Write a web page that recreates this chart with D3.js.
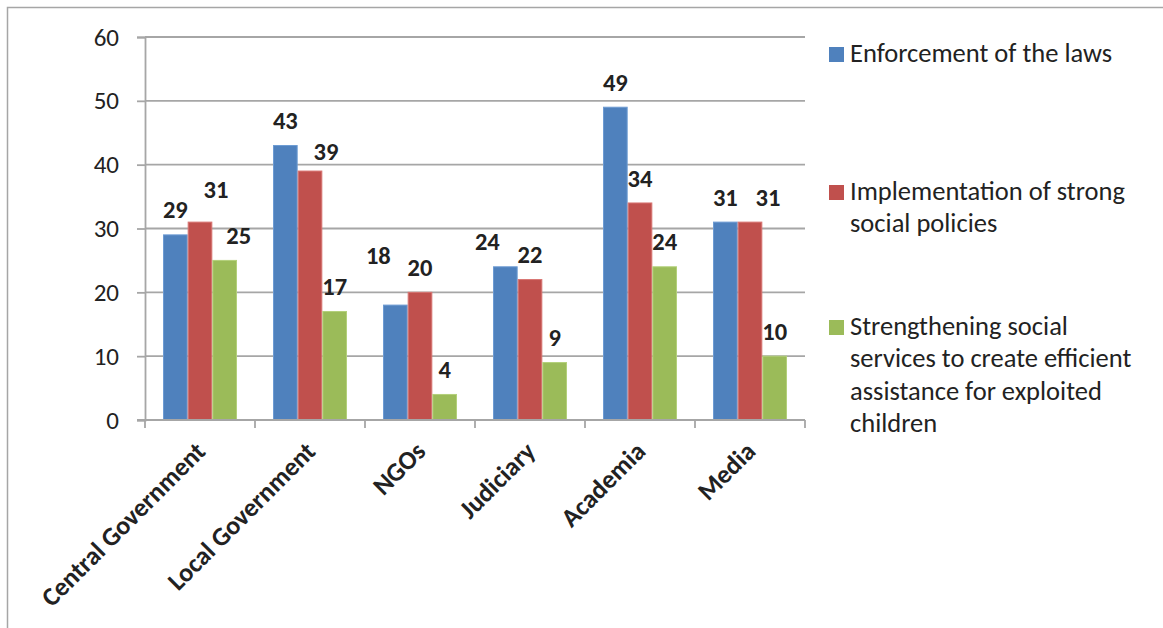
<!DOCTYPE html>
<html>
<head>
<meta charset="utf-8">
<script src="https://cdn.jsdelivr.net/npm/d3@7"></script>
<style>
  html, body { margin: 0; padding: 0; background: #fff; }
  svg { display: block; }
  text { font-family: Carlito, Calibri, Lato, "Open Sans", sans-serif; fill: #222; }
</style>
</head>
<body>
<svg id="chart" width="1163" height="628"></svg>
<script>
// ---- data ----
const categories = ["Central Government", "Local Government", "NGOs", "Judiciary", "Academia", "Media"];
const seriesNames = [
  "Enforcement of the laws",
  "Implementation of strong social policies",
  "Strengthening social services to create efficient assistance for exploited children"
];
const enforcement     = [29, 43, 18, 24, 49, 31];
const implementation  = [31, 39, 20, 22, 34, 31];
const strengthening   = [25, 17,  4,  9, 24, 10];
const yTicks = [0, 10, 20, 30, 40, 50, 60];
const legendLines = [
  ["Enforcement of the laws"],
  ["Implementation of strong", "social policies"],
  ["Strengthening social", "services to create efficient", "assistance for exploited", "children"]
];

// ---- styling ----
const colors = ["#4F81BD", "#C0504D", "#9BBB59"];
const strokes = ["#6d9bd3", "#d87572", "#b3d07a"];
// manual data-label nudges (px) relative to default placement, per category x series
const labelNudge = [
  [[0,0],[16,-8],[14,0]],
  [[0,0],[16,5],[0,0]],
  [[-17,-25],[0,0],[0,0]],
  [[-18,0],[0,0],[0,0]],
  [[0,0],[0,0],[0,0]],
  [[0,0],[18,0],[0,0]]
];

(function () {
const seriesValues = [enforcement, implementation, strengthening];
const svg = d3.select("#chart");

// outer frame
svg.append("rect").attr("x", 7.5).attr("y", 7.5).attr("width", 1300).attr("height", 800)
  .attr("fill", "none").attr("stroke", "#a6a6a6").attr("stroke-width", 1.5);

const pLeft = 145, pRight = 805, pTop = 37, pBottom = 420;

const x0 = d3.scaleBand().domain(categories).range([pLeft, pRight])
  .paddingInner(36/110).paddingOuter(18/110);
const x1 = d3.scaleBand().domain(d3.range(3)).range([0, x0.bandwidth()]).padding(0);
const y = d3.scaleLinear().domain([0, 60]).range([pBottom, pTop]);

// gridlines
svg.append("g").selectAll("line").data(yTicks.filter(t => t > 0)).join("line")
  .attr("x1", pLeft).attr("x2", pRight)
  .attr("y1", d => y(d)).attr("y2", d => y(d))
  .attr("stroke", "#a6a6a6").attr("stroke-width", 1.8);

// y axis
const yAxis = svg.append("g").attr("transform", `translate(${pLeft},0)`)
  .call(d3.axisLeft(y).tickValues(yTicks).tickSize(8).tickPadding(18));
yAxis.select(".domain").attr("stroke", "#a6a6a6").attr("stroke-width", 1.8);
yAxis.selectAll(".tick line").attr("stroke", "#a6a6a6").attr("stroke-width", 1.8);
yAxis.selectAll(".tick text").attr("font-size", 25).attr("fill", "#222")
  .style("font-family", "Carlito, Calibri, Lato, sans-serif");

// bars
const groups = svg.append("g").selectAll("g").data(categories).join("g")
  .attr("transform", d => `translate(${x0(d)},0)`);
groups.selectAll("rect").data((c, i) => seriesValues.map((s, j) => ({ s: j, v: s[i] })))
  .join("rect")
  .attr("x", d => x1(d.s) + 0.5)
  .attr("width", x1.bandwidth() - 1)
  .attr("y", d => y(d.v))
  .attr("height", d => y(0) - y(d.v))
  .attr("fill", d => colors[d.s])
  .attr("stroke", d => strokes[d.s]).attr("stroke-width", 1);

// x axis
const xAxisG = svg.append("g").attr("transform", `translate(0,${pBottom})`);
xAxisG.append("line").attr("x1", pLeft - 8).attr("x2", pRight).attr("y1", 0).attr("y2", 0)
  .attr("stroke", "#a6a6a6").attr("stroke-width", 1.8);
const boundaries = categories.map(c => x0(c) - x0.step() * x0.paddingInner() / 2);
boundaries.push(pRight);
xAxisG.selectAll("line.tk").data(boundaries).join("line").attr("class", "tk")
  .attr("x1", d => d).attr("x2", d => d).attr("y1", 0).attr("y2", 8)
  .attr("stroke", "#a6a6a6").attr("stroke-width", 1.8);

// category labels rotated
svg.append("g").selectAll("text").data(categories).join("text")
  .attr("transform", d => `translate(${x0(d) + x0.bandwidth()/2 + 7},${pBottom + 33}) rotate(-45)`)
  .attr("text-anchor", "end")
  .attr("font-size", 26).attr("font-weight", "bold")
  .text(d => d);

// data labels
groups.each(function(c, i) {
  d3.select(this).selectAll("text").data(seriesValues.map((s, j) => ({ s: j, v: s[i] })))
    .join("text")
    .attr("x", d => x1(d.s) + x1.bandwidth()/2 + labelNudge[i][d.s][0])
    .attr("y", d => y(d.v) - 25 + labelNudge[i][d.s][1])
    .attr("dy", "0.35em")
    .attr("text-anchor", "middle")
    .attr("font-size", 24.5).attr("font-weight", "bold")
    .text(d => d.v);
});

// legend
const legendY = [62, 200, 335];
const leg = svg.append("g");
legendLines.forEach((lines, k) => {
  leg.append("rect").attr("x", 829).attr("y", legendY[k] - 15).attr("width", 15).attr("height", 15)
    .attr("fill", colors[k]);
  const t = leg.append("text").attr("x", 850).attr("y", legendY[k]).attr("font-size", 26.5);
  lines.forEach((ln, m) => {
    t.append("tspan").attr("x", 850).attr("y", legendY[k] + m * 32.3).text(ln);
  });
});
})();
</script>
</body>
</html>
